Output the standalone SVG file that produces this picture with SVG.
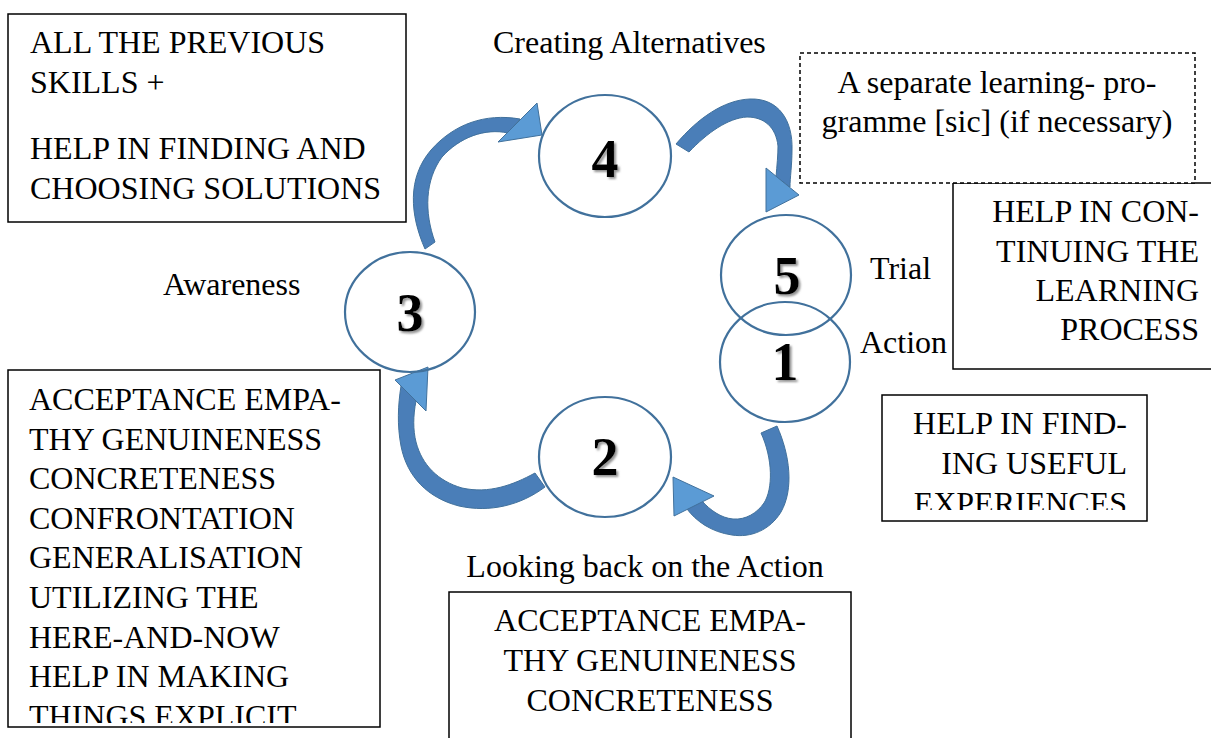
<svg xmlns="http://www.w3.org/2000/svg" width="1211" height="738" viewBox="0 0 1211 738">
<style>
.t{font-family:"Liberation Serif","Times New Roman",serif;font-size:32px;fill:#000}
.box{fill:#fff;stroke:#000;stroke-width:1.5}
.dash{fill:#fff;stroke:#000;stroke-width:1.5;stroke-dasharray:4 3}
.c{fill:none;stroke:#41719C;stroke-width:2.2}
.n{font-family:"Liberation Serif","Times New Roman",serif;font-size:54px;font-weight:bold;fill:#000;text-anchor:middle}
.band{fill:#4A7EB8;stroke:#41719C;stroke-width:1}
.head{fill:#5B9BD5;stroke:#41719C;stroke-width:1}
.m{text-anchor:middle}
.e{text-anchor:end}
</style>
<defs>
<filter id="sh" x="-20%" y="-20%" width="150%" height="150%">
<feDropShadow dx="2" dy="2" stdDeviation="1.2" flood-color="#777" flood-opacity="0.8"/>
</filter>
<clipPath id="clipL"><rect x="0" y="370" width="400" height="353"/></clipPath>
<clipPath id="clipF"><rect x="880" y="395" width="270" height="115"/></clipPath>
</defs>
<rect width="1211" height="738" fill="#fff"/>

<g id="box-skills">
<rect class="box" x="8" y="14" width="398" height="208"/>
<text class="t" x="30" y="53">ALL THE PREVIOUS</text>
<text class="t" x="30" y="93">SKILLS +</text>
<text class="t" x="30" y="159">HELP IN FINDING AND</text>
<text class="t" x="30" y="199">CHOOSING SOLUTIONS</text>
</g>

<g id="box-continuing">
<rect class="box" x="953" y="183" width="270" height="186"/>
<text class="t e" x="1199" y="222">HELP IN CON-</text>
<text class="t e" x="1199" y="262">TINUING THE</text>
<text class="t e" x="1199" y="301">LEARNING</text>
<text class="t e" x="1199" y="340">PROCESS</text>
</g>

<g id="box-separate">
<rect class="dash" x="800" y="53" width="395" height="130"/>
<text class="t m" x="997" y="93">A separate learning- pro-</text>
<text class="t m" x="997" y="132">gramme [sic] (if necessary)</text>
</g>

<g id="box-acceptance-left">
<rect class="box" x="8" y="370" width="372" height="357"/>
<g clip-path="url(#clipL)">
<text class="t" x="29" y="410">ACCEPTANCE EMPA-</text>
<text class="t" x="29" y="450">THY GENUINENESS</text>
<text class="t" x="29" y="489">CONCRETENESS</text>
<text class="t" x="29" y="529">CONFRONTATION</text>
<text class="t" x="29" y="568">GENERALISATION</text>
<text class="t" x="29" y="608">UTILIZING THE</text>
<text class="t" x="29" y="648">HERE-AND-NOW</text>
<text class="t" x="29" y="687">HELP IN MAKING</text>
<text class="t" x="29" y="727">THINGS EXPLICIT</text>
</g>
</g>

<g id="box-useful">
<rect class="box" x="882" y="395" width="265" height="126"/>
<g clip-path="url(#clipF)">
<text class="t e" x="1127" y="434">HELP IN FIND-</text>
<text class="t e" x="1127" y="474">ING USEFUL</text>
<text class="t e" x="1127" y="514">EXPERIENCES</text>
</g>
</g>

<g id="box-acceptance-bottom">
<rect class="box" x="449" y="592" width="402" height="160"/>
<text class="t m" x="650" y="631">ACCEPTANCE EMPA-</text>
<text class="t m" x="650" y="671">THY GENUINENESS</text>
<text class="t m" x="650" y="711">CONCRETENESS</text>
</g>

<g id="labels">
<text class="t" x="493" y="53">Creating Alternatives</text>
<text class="t" x="163" y="295">Awareness</text>
<text class="t" x="870" y="279">Trial</text>
<text class="t" x="860" y="353">Action</text>
<text class="t m" x="645" y="577">Looking back on the Action</text>
</g>

<g id="connectors">
<g id="arrow-3-4">
<path class="band" d="M425,249 C410,215 407,178 431,150 C454,124 485,113 520,119 L508,133 C485,128 460,137 442,157 C425,180 424,212 435,242 Z"/>
<path class="head" d="M498,142 L537,103 L542,135 Z"/>
</g>
<g id="arrow-4-5">
<path class="band" d="M676,144 C698,118 724,100 750,99 C779,98 793,121 792,150 C792,165 790,178 790,187 L776,177 C777,165 778,155 778,146 C776,127 764,117 747,117 C728,118 707,133 689,152 Z"/>
<path class="head" d="M766,168 L799,195 L766,212 Z"/>
</g>
<g id="arrow-1-2">
<path class="band" d="M777,426 C790,455 794,489 781,512 C770,530 751,538 732,535 C711,532 696,521 687,509 L702,501 C710,510 721,518 733,519 C746,520 757,513 764,503 C773,489 773,459 761,433 Z"/>
<path class="head" d="M674,516 L673,477 L714,496 Z"/>
</g>
<g id="arrow-2-3">
<path class="band" d="M545,487 C521,505 490,513 459,506 C428,498 407,477 401,446 C397,425 398,405 401,386 L416,401 C413,416 413,430 416,442 C422,465 438,481 462,488 C489,494 513,485 535,473 Z"/>
<path class="head" d="M395,380 L428,367 L426,411 Z"/>
</g>
</g>

<g id="node-4">
<ellipse class="c" cx="605" cy="156" rx="66" ry="61"/>
<text class="n" x="605" y="177" filter="url(#sh)">4</text>
</g>
<g id="node-3">
<ellipse class="c" cx="410" cy="312" rx="65" ry="60"/>
<text class="n" x="410" y="331" filter="url(#sh)">3</text>
</g>
<g id="node-2">
<ellipse class="c" cx="605" cy="457" rx="66" ry="60"/>
<text class="n" x="605" y="475" filter="url(#sh)">2</text>
</g>
<g id="node-5">
<ellipse class="c" cx="786" cy="275" rx="65" ry="60"/>
<text class="n" x="787" y="294" filter="url(#sh)">5</text>
</g>
<g id="node-1">
<ellipse class="c" cx="785" cy="362" rx="65" ry="60"/>
<text class="n" x="785" y="380" filter="url(#sh)">1</text>
</g>
</svg>
